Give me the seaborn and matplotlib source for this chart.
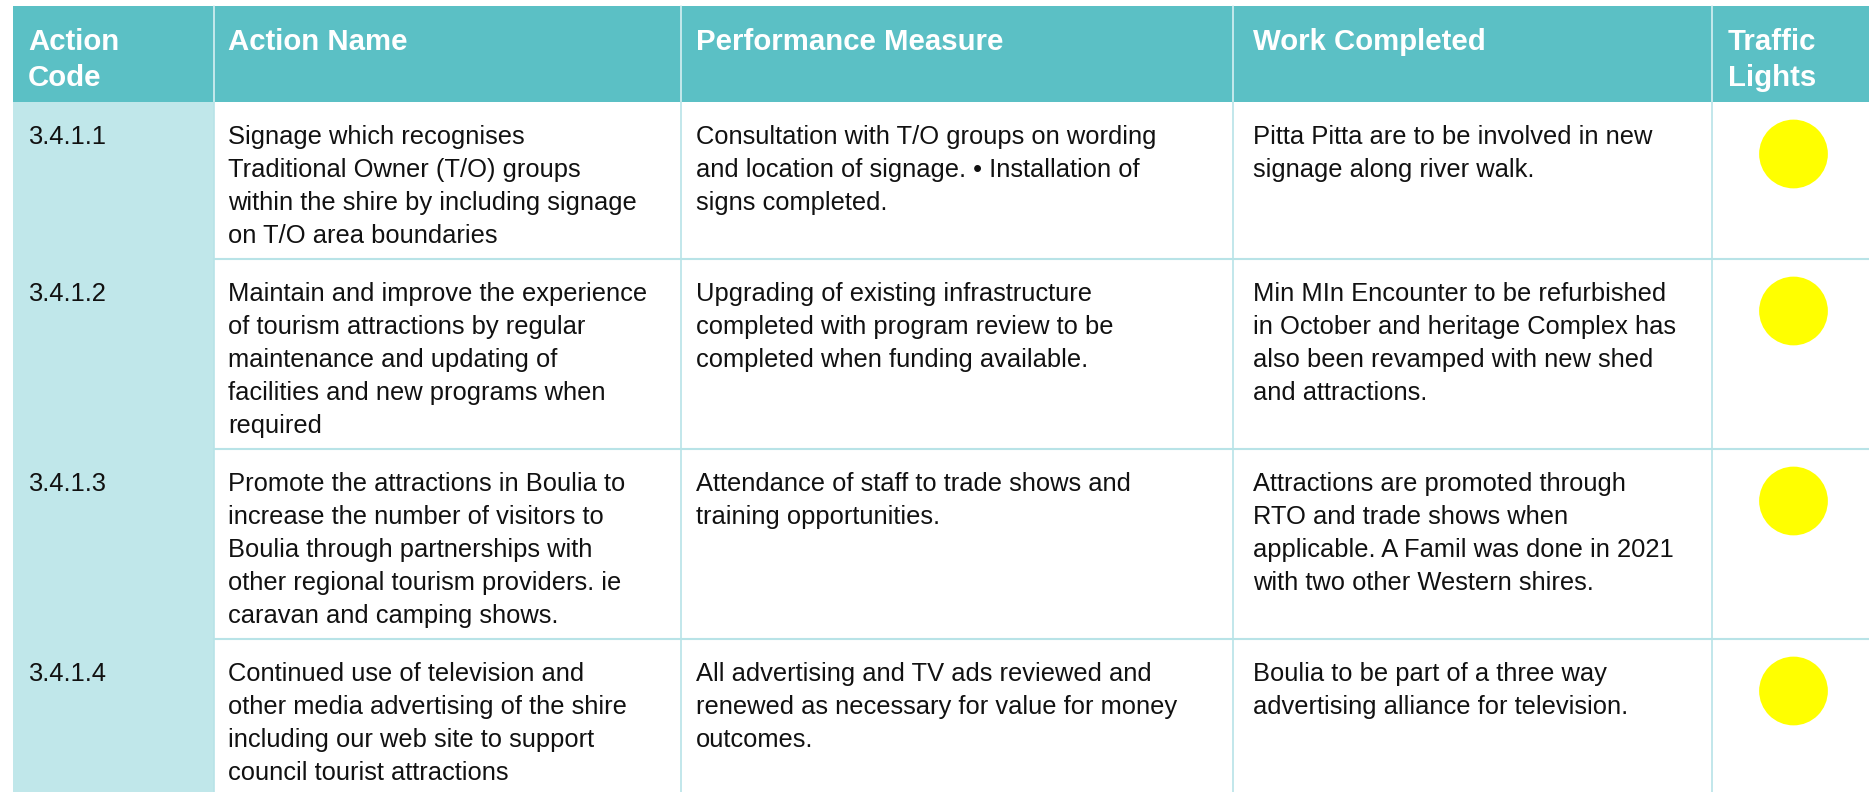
import pandas as pd
import seaborn as sns
import matplotlib.pyplot as plt
from matplotlib.patches import Rectangle

# ---- table content ----
headers = ["Action\nCode", "Action Name", "Performance Measure", "Work Completed", "Traffic\nLights"]

codes = ["3.4.1.1", "3.4.1.2", "3.4.1.3", "3.4.1.4"]

action_names = [
    ["Signage which recognises", "Traditional Owner (T/O) groups",
     "within the shire by including signage", "on T/O area boundaries"],
    ["Maintain and improve the experience", "of tourism attractions by regular",
     "maintenance and updating of", "facilities and new programs when", "required"],
    ["Promote the attractions in Boulia to", "increase the number of visitors to",
     "Boulia through partnerships with", "other regional tourism providers. ie",
     "caravan and camping shows."],
    ["Continued use of television and", "other media advertising of the shire",
     "including our web site to support", "council tourist attractions"],
]

performance_measures = [
    ["Consultation with T/O groups on wording", "and location of signage. \u2022 Installation of",
     "signs completed."],
    ["Upgrading of existing infrastructure", "completed with program review to be",
     "completed when funding available."],
    ["Attendance of staff to trade shows and", "training opportunities."],
    ["All advertising and TV ads reviewed and", "renewed as necessary for value for money",
     "outcomes."],
]

work_completed = [
    ["Pitta Pitta are to be involved in new", "signage along river walk."],
    ["Min MIn Encounter to be refurbished", "in October and heritage Complex has",
     "also been revamped with new shed", "and attractions."],
    ["Attractions are promoted through", "RTO and trade shows when",
     "applicable. A Famil was done in 2021", "with two other Western shires."],
    ["Boulia to be part of a three way", "advertising alliance for television."],
]

traffic_lights = ["Amber", "Amber", "Amber", "Amber"]

# ---- look ----
W, H = 1869, 792
HEADER_BG = "#5bc0c5"
CODE_BG = "#c0e7ea"
GRID = "#b8e3e7"
LIGHT_COLORS = {"Amber": "#ffff00", "Green": "#00b050", "Red": "#ff0000"}

col_edges = [13, 214, 681, 1233, 1712, W]
text_pad = [15, 14, 15, 20, 16]
header_top, header_bottom = 6, 102
line_gap = 33
first_baseline = 42

sns.set_theme(style="white")
plt.rcParams["font.family"] = ["Liberation Sans", "DejaVu Sans"]

fig = plt.figure(figsize=(W / 100, H / 100), dpi=100)
ax = fig.add_axes([0, 0, 1, 1])

# header band
ax.add_patch(Rectangle((col_edges[0], header_top), W - col_edges[0], header_bottom - header_top,
                       facecolor=HEADER_BG, edgecolor="none", zorder=0))
for i, h in enumerate(headers):
    for j, part in enumerate(h.split("\n")):
        ax.text(col_edges[i] + text_pad[i], 50 + j * 36, part, color="white",
                fontsize=21.2, fontweight="bold", va="baseline", ha="left")
for x in col_edges[1:-1]:
    ax.plot([x, x], [header_top, header_bottom], color="#d6f0f2", lw=1.2, zorder=1)

# body rows: height follows the tallest cell
row_tops = [header_bottom]
for k in range(len(codes)):
    n = max(len(action_names[k]), len(performance_measures[k]), len(work_completed[k]))
    row_tops.append(row_tops[-1] + n * line_gap + 25)

ax.add_patch(Rectangle((col_edges[0], header_bottom), col_edges[1] - col_edges[0], H - header_bottom,
                       facecolor=CODE_BG, edgecolor="none", zorder=0))

for k, code in enumerate(codes):
    top = row_tops[k]
    cells = [[code], action_names[k], performance_measures[k], work_completed[k]]
    for i, lines in enumerate(cells):
        for j, line in enumerate(lines):
            ax.text(col_edges[i] + text_pad[i], top + first_baseline + j * line_gap, line,
                    color="#111111", fontsize=18.4, va="baseline", ha="left")
    if k > 0:
        ax.plot([col_edges[1], W], [top, top], color=GRID, lw=1.5, zorder=1)

for x in col_edges[1:-1]:
    ax.plot([x, x], [header_bottom, H], color=GRID, lw=1.2, zorder=1)

# traffic lights
lights = pd.DataFrame({
    "x": [(col_edges[4] + col_edges[5]) / 2 + 3] * len(codes),
    "y": [t + 52 for t in row_tops[:len(codes)]],
    "status": traffic_lights,
})
sns.scatterplot(data=lights, x="x", y="y", hue="status", palette=LIGHT_COLORS,
                s=2450, linewidth=0, legend=False, ax=ax, zorder=3)

ax.set_xlim(0, W)
ax.set_ylim(H, 0)
ax.axis("off")

fig.savefig("out.png", dpi=100, facecolor="white")
